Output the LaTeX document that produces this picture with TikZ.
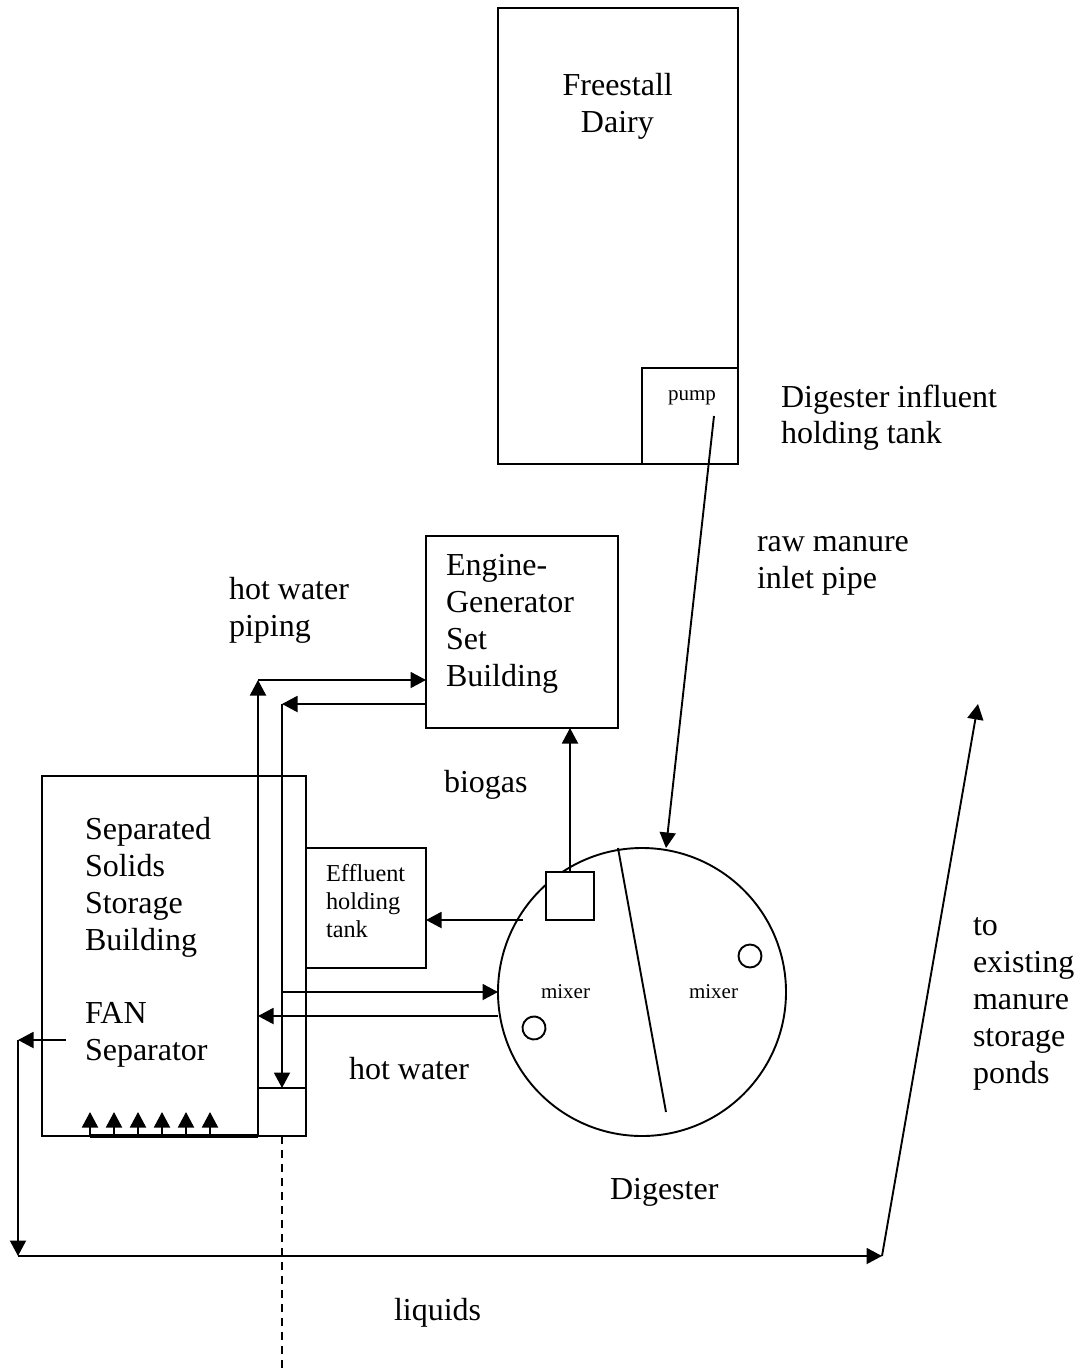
\documentclass[tikz,border=0pt]{standalone}
\usepackage{fontspec}
\setmainfont{Liberation Serif}
\usetikzlibrary{arrows.meta}
\tikzset{
  x=1pt,y=-1pt,
  line/.style={draw=black,line width=1.9pt},
  flow/.style={line,-{Triangle[length=15.5pt,width=16pt]}},
  boxed/.style={line,rectangle,inner sep=0pt,outer sep=0pt,minimum width=#1},
  big/.style={inner sep=0pt,outer sep=0pt,anchor=base west,align=left,font=\fontsize{32}{37}\selectfont,text=black},
  mid/.style={big,font=\fontsize{24.3}{28}\selectfont},
  tiny/.style={big,font=\fontsize{21}{24}\selectfont},
}
\begin{document}
\begin{tikzpicture}
\useasboundingbox[fill=white] (0,0) rectangle (1080,1371);
% buildings
\node[boxed=240pt,minimum height=456pt,anchor=north west] (dairy) at (498,8) {};
\node[boxed=96pt,minimum height=96pt,anchor=north west] (pumpbox) at (642,368) {};
\node[boxed=192pt,minimum height=192pt,anchor=north west] (engine) at (426,536) {};
\node[boxed=264pt,minimum height=360pt,anchor=north west] (solids) at (42,776) {};
\node[boxed=48pt,minimum height=48pt,anchor=north west] (pit) at (258,1088) {};
\node[boxed=120pt,minimum height=120pt,anchor=north west] (effluent) at (306,848) {};
% digester
\node[line,circle,inner sep=0pt,outer sep=0pt,minimum size=288pt] (digester) at (642,992) {};
\node[boxed=48pt,minimum height=48pt,anchor=north west,fill=white] (gasbox) at (546,872) {};
\coordinate (mixerA) at (534,1028);
\draw[line] (mixerA) ++(60:11.5pt) arc[start angle=60,end angle=480,radius=11.5pt];
\node[line,circle,inner sep=0pt,outer sep=0pt,minimum size=23pt] (mixerB) at (750,956) {};
% free ends and corners
\coordinate (divT) at (618,848);
\coordinate (divB) at (666,1112);
\coordinate (pumpOut) at (714,416);
\coordinate (digIn) at (666,848);
\coordinate (hotA) at (258,680);
\coordinate (hotAe) at (426,680);
\coordinate (hotB) at (282,704);
\coordinate (hotBs) at (426,704);
\coordinate (hotAb) at (258,1088);
\coordinate (hotBb) at (282,1088);
\coordinate (supS) at (282,992);
\coordinate (supE) at (498,992);
\coordinate (retS) at (498,1016);
\coordinate (retE) at (258,1016);
\coordinate (effS) at (523,920);
\coordinate (effE) at (426,920);
\coordinate (gasE) at (570,728);
\coordinate (gasS) at (570,872);
\coordinate (liqA) at (66,1040);
\coordinate (liqB) at (18,1040);
\coordinate (liqC) at (18,1256);
\coordinate (liqD) at (882,1256);
\coordinate (liqE) at (978,704);
\coordinate (dashS) at (282,1136);
\coordinate (dashE) at (282,1371);
\coordinate (barL) at (90,1136);
\coordinate (barR) at (258,1136);
% connectors
\draw[line] (divT) -- (divB);
\draw[flow] (pumpOut) -- (digIn);
\draw[flow] (hotAb) -- (hotA);
\draw[flow] (hotA) -- (hotAe);
\draw[flow] (hotBs) -- (hotB);
\draw[flow] (hotB) -- (hotBb);
\draw[flow] (supS) -- (supE);
\draw[flow] (retS) -- (retE);
\draw[flow] (effS) -- (effE);
\draw[flow] (gasS) -- (gasE);
\draw[flow] (liqA) -- (liqB);
\draw[flow] (liqB) -- (liqC);
\draw[flow] (liqC) -- (liqD);
\draw[flow] (liqD) -- (liqE);
\draw[line,dash pattern=on 8pt off 6pt] (dashS) -- (dashE);
\draw[line,line width=3.2pt] (barL) -- (barR);
\foreach \i/\xx in {a/90,b/114,c/138,d/162,e/186,f/210}{
  \coordinate (up\i s) at (\xx,1136);
  \coordinate (up\i e) at (\xx,1112);
  \draw[flow] (up\i s) -- (up\i e);
}
% labels
\node[big,align=center,anchor=base] (tFree) at (617.7,95) {Freestall};
\node[big,align=center,anchor=base] (tDairy) at (617.4,132) {Dairy};
\node[tiny,anchor=base] (tPump) at (692,400) {pump};
\node[big] (tInf1) at (781,407) {Digester influent};
\node[big] (tInf2) at (781,443) {holding tank};
\node[big] (tRaw1) at (757,551) {raw manure};
\node[big] (tRaw2) at (757,588) {inlet pipe};
\node[big] (tHot1) at (229,599) {hot water};
\node[big] (tHot2) at (229,636) {piping};
\node[big] (tE1) at (446,575) {Engine-};
\node[big] (tE2) at (446,612) {Generator};
\node[big] (tE3) at (446,649) {Set};
\node[big] (tE4) at (446,686) {Building};
\node[big] (tBio) at (444,792) {biogas};
\node[big] (tS1) at (85,839) {Separated};
\node[big] (tS2) at (85,876) {Solids};
\node[big] (tS3) at (85,913) {Storage};
\node[big] (tS4) at (85,950) {Building};
\node[big] (tS5) at (85,1023) {FAN};
\node[big] (tS6) at (85,1060) {Separator};
\node[big] (tHW) at (349,1079) {hot water};
\node[big] (tDig) at (610,1199) {Digester};
\node[big] (tLiq) at (394,1320) {liquids};
\node[big] (tTo1) at (973,935) {to};
\node[big] (tTo2) at (973,972) {existing};
\node[big] (tTo3) at (973,1009) {manure};
\node[big] (tTo4) at (973,1046) {storage};
\node[big] (tTo5) at (973,1083) {ponds};
\node[mid] (tEf1) at (326,881) {Effluent};
\node[mid] (tEf2) at (326,909) {holding};
\node[mid] (tEf3) at (326,937) {tank};
\node[tiny] (tMixA) at (541,998) {mixer};
\node[tiny] (tMixB) at (689,998) {mixer};
\end{tikzpicture}
\end{document}
